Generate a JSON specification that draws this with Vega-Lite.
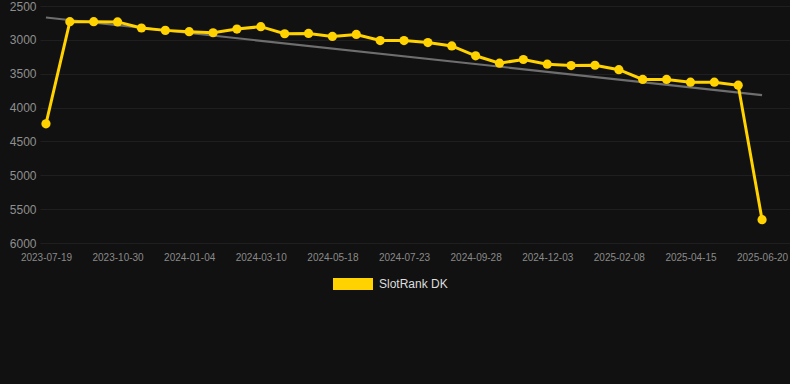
{
  "$schema": "https://vega.github.io/schema/vega-lite/v6.json",
  "autosize": {"type": "none"},
  "width": 750,
  "height": 237,
  "padding": {"left": 40, "top": 6, "right": 0, "bottom": 141},
  "background": "#111111",
  "config": {
    "view": {"stroke": null},
    "font": "Liberation Sans",
    "axis": {"gridColor": "#1f1f1f", "gridWidth": 1, "domain": false, "ticks": false, "labelColor": "#8a8a8a", "labelFont": "Liberation Sans"}
  },
  "datasets": {
    "ranks": [
      {"date": "2023-07-19", "rank": 4240},
      {"date": "2023-09-17", "rank": 2732},
      {"date": "2023-10-08", "rank": 2732},
      {"date": "2023-10-30", "rank": 2735},
      {"date": "2023-11-21", "rank": 2825},
      {"date": "2023-12-13", "rank": 2860},
      {"date": "2024-01-04", "rank": 2880},
      {"date": "2024-01-26", "rank": 2895},
      {"date": "2024-02-17", "rank": 2840},
      {"date": "2024-03-10", "rank": 2805},
      {"date": "2024-04-02", "rank": 2910},
      {"date": "2024-04-25", "rank": 2905},
      {"date": "2024-05-18", "rank": 2950},
      {"date": "2024-06-09", "rank": 2920},
      {"date": "2024-07-01", "rank": 3010},
      {"date": "2024-07-23", "rank": 3010},
      {"date": "2024-08-14", "rank": 3040},
      {"date": "2024-09-05", "rank": 3090},
      {"date": "2024-09-28", "rank": 3235},
      {"date": "2024-10-20", "rank": 3345},
      {"date": "2024-11-11", "rank": 3290},
      {"date": "2024-12-03", "rank": 3360},
      {"date": "2024-12-25", "rank": 3380},
      {"date": "2025-01-16", "rank": 3375},
      {"date": "2025-02-08", "rank": 3440},
      {"date": "2025-03-02", "rank": 3585},
      {"date": "2025-03-24", "rank": 3585},
      {"date": "2025-04-15", "rank": 3625},
      {"date": "2025-05-07", "rank": 3625},
      {"date": "2025-05-29", "rank": 3670},
      {"date": "2025-06-20", "rank": 5656}
    ],
    "trend": [
      {"date": "2023-07-19", "rank": 2670},
      {"date": "2025-06-20", "rank": 3815}
    ]
  },
  "encoding": {
    "x": {
      "field": "date",
      "type": "ordinal",
      "scale": {"type": "point", "padding": 0.71, "align": 0.176},
      "axis": {
        "title": null,
        "labelAngle": 0,
        "labelFontSize": 10,
        "labelPadding": 9,
        "values": ["2023-07-19", "2023-10-30", "2024-01-04", "2024-03-10", "2024-05-18", "2024-07-23", "2024-09-28", "2024-12-03", "2025-02-08", "2025-04-15", "2025-06-20"]
      }
    },
    "y": {
      "field": "rank",
      "type": "quantitative",
      "scale": {"domain": [2500, 6000], "reverse": true, "nice": false, "zero": false},
      "axis": {"title": null, "format": "d", "values": [2500, 3000, 3500, 4000, 4500, 5000, 5500, 6000], "labelFontSize": 12, "labelPadding": 4, "labelColor": "#8f8f8f"}
    }
  },
  "layer": [
    {
      "data": {"name": "trend"},
      "mark": {"type": "line", "color": "#6e6e6e", "strokeWidth": 2.2}
    },
    {
      "data": {"name": "ranks"},
      "mark": {"type": "line", "color": "#FFD200", "strokeWidth": 3}
    },
    {
      "data": {"name": "ranks"},
      "mark": {"type": "point", "filled": true, "size": 85, "opacity": 1},
      "encoding": {
        "color": {
          "datum": "SlotRank DK",
          "scale": {"range": ["#FFD200"]},
          "legend": {
            "title": null,
            "orient": "none",
            "legendX": 293,
            "legendY": 258,
            "padding": 0,
            "symbolType": "M-1,-0.3H1V0.3H-1Z",
            "symbolSize": 1600,
            "symbolOpacity": 1,
            "symbolStrokeWidth": 0,
            "labelFontSize": 12,
            "labelColor": "#dddddd",
            "labelOffset": 6,
            "labelFont": "Liberation Sans"
          }
        }
      }
    }
  ]
}
